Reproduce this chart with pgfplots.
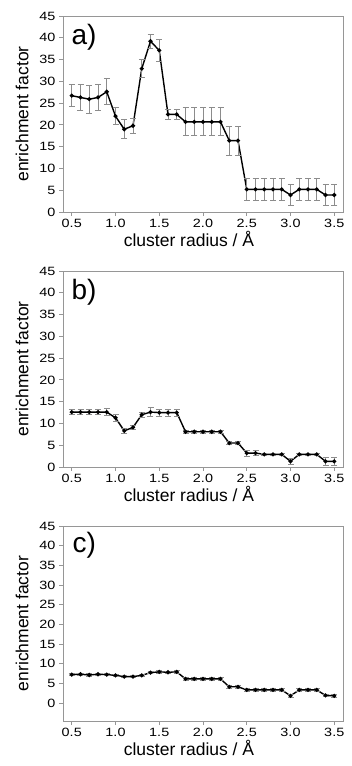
\documentclass[border=0pt]{standalone}
\usepackage{fontspec}
\setmainfont{Liberation Sans}
\newfontfamily\tickfont{Liberation Sans}[FakeStretch=1.2]
\usepackage{pgfplots}
\usepackage{pgfplotstable}
\pgfplotsset{compat=1.18}
\definecolor{framegray}{RGB}{150,150,150}
\definecolor{errgray}{RGB}{140,140,140}

\pgfplotstableread{
x y e
0.5 26.7 2.5
0.6 26.3 2.9
0.7 25.9 3.2
0.8 26.3 2.9
0.9 27.6 3.0
1.0 22.0 1.9
1.1 19.0 2.2
1.2 19.8 1.7
1.3 32.9 2.1
1.4 39.2 1.6
1.5 37.1 2.6
1.6 22.4 1.2
1.7 22.4 1.2
1.8 20.7 3.2
1.9 20.7 3.2
2.0 20.7 3.2
2.1 20.7 3.2
2.2 20.7 3.2
2.3 16.4 3.3
2.4 16.4 3.3
2.5 5.2 2.6
2.6 5.2 2.6
2.7 5.2 2.6
2.8 5.2 2.6
2.9 5.2 2.6
3.0 3.9 2.4
3.1 5.2 2.6
3.2 5.2 2.6
3.3 5.2 2.6
3.4 3.9 2.4
3.5 3.9 2.4
}\dataa

\pgfplotstableread{
x y e
0.5 12.6 0.6
0.6 12.6 0.6
0.7 12.6 0.6
0.8 12.6 0.6
0.9 12.6 0.8
1.0 11.3 0.8
1.1 8.3 0.6
1.2 9.1 0.4
1.3 12.0 0.6
1.4 12.6 1.0
1.5 12.5 0.8
1.6 12.5 0.8
1.7 12.5 0.8
1.8 8.1 0.3
1.9 8.1 0.3
2.0 8.1 0.3
2.1 8.1 0.3
2.2 8.1 0.3
2.3 5.5 0.3
2.4 5.5 0.3
2.5 3.2 0.7
2.6 3.2 0.6
2.7 2.9 0.3
2.8 2.9 0.3
2.9 2.9 0.3
3.0 1.3 0.7
3.1 2.9 0.3
3.2 2.9 0.3
3.3 2.9 0.3
3.4 1.3 0.9
3.5 1.3 0.9
}\datab

\pgfplotstableread{
x y e
0.5 7.2 0.3
0.6 7.3 0.3
0.7 7.1 0.3
0.8 7.3 0.3
0.9 7.2 0.3
1.0 7.0 0.3
1.1 6.7 0.3
1.2 6.7 0.3
1.3 7.0 0.3
1.4 7.7 0.3
1.5 7.9 0.3
1.6 7.8 0.3
1.7 7.9 0.3
1.8 6.1 0.3
1.9 6.1 0.3
2.0 6.1 0.3
2.1 6.1 0.3
2.2 6.1 0.3
2.3 4.1 0.3
2.4 4.1 0.3
2.5 3.3 0.3
2.6 3.3 0.3
2.7 3.3 0.3
2.8 3.3 0.3
2.9 3.3 0.3
3.0 1.8 0.3
3.1 3.3 0.3
3.2 3.3 0.3
3.3 3.3 0.3
3.4 1.9 0.3
3.5 1.8 0.3
}\datac

\pgfplotsset{
  panel/.style={
    scale only axis,
    width=280pt, height=196pt,
    anchor=south west,
    xmin=0.4, xmax=3.6,
    ymin=0, ymax=45,
    xtick={0.5,1.0,...,3.5},
    ytick={0,5,...,45},
    tick pos=left,
    tick align=outside,
    major tick length=4pt,
    axis line style={framegray, line width=0.8pt},
    tick style={framegray, line width=0.8pt},
    /pgf/number format/assume math mode=true,
    xticklabel style={/pgf/number format/fixed, /pgf/number format/fixed zerofill, /pgf/number format/precision=1, font=\tickfont\fontsize{12}{12}\selectfont},
    yticklabel style={font=\tickfont\fontsize{12}{12}\selectfont},
    xlabel={cluster radius / Å},
    ylabel={enrichment factor},
    label style={font=\fontsize{17.5}{17.5}\selectfont},
    xlabel style={yshift=4pt, xshift=-14pt},
    ylabel style={yshift=4pt},
  },
  series/.style={
    black, line width=1.4pt, mark=*, mark size=1.3pt,
    error bars/.cd, y dir=both, y explicit,
    error bar style={errgray, line width=0.8pt},
    error mark options={rotate=90, errgray, mark size=3pt, line width=0.8pt},
  },
}

\begin{document}
\begin{tikzpicture}
\begin{axis}[panel, at={(63pt,554pt)}]
\addplot+[series] table[x=x, y=y, y error=e]{\dataa};
\node[anchor=west, font=\fontsize{28}{28}\selectfont] at (rel axis cs:0.018,0.89) {a)};
\end{axis}
\begin{axis}[panel, at={(63pt,299pt)}]
\addplot+[series] table[x=x, y=y, y error=e]{\datab};
\node[anchor=west, font=\fontsize{28}{28}\selectfont] at (rel axis cs:0.018,0.89) {b)};
\end{axis}
\begin{axis}[panel, at={(63pt,45pt)}, height=195pt, ymin=-4.6]
\addplot+[series] table[x=x, y=y, y error=e]{\datac};
\node[anchor=west, font=\fontsize{28}{28}\selectfont] at (rel axis cs:0.022,0.90) {c)};
\end{axis}
\pgfresetboundingbox
\path (0,0) rectangle (351pt,766pt);
\end{tikzpicture}
\end{document}
